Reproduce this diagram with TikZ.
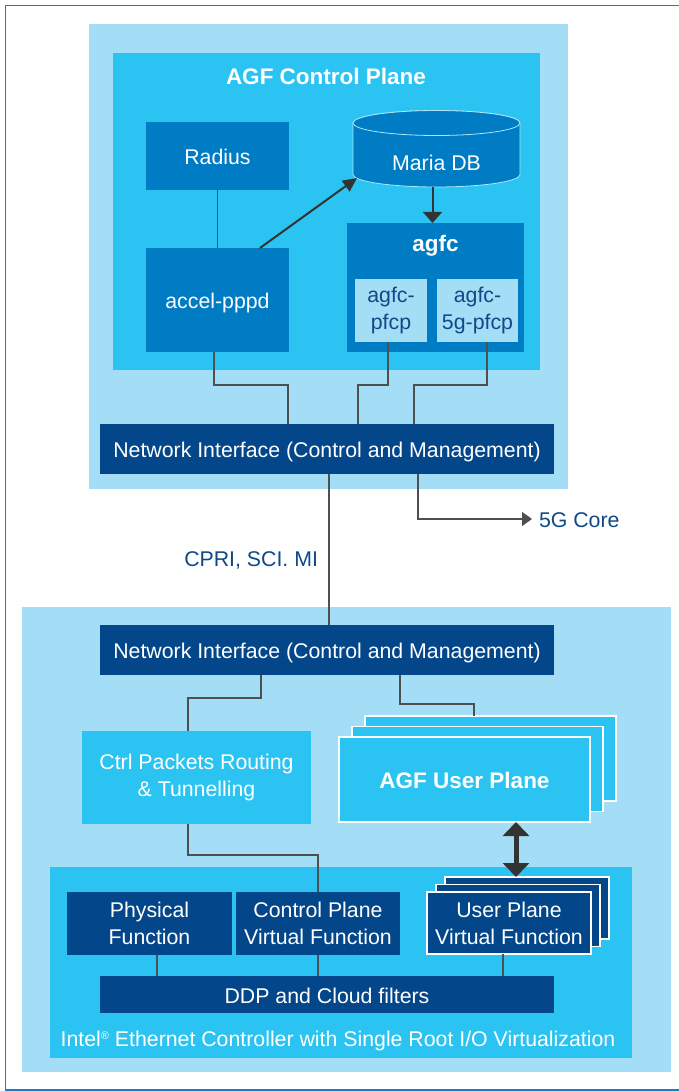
\documentclass[tikz,border=0pt]{standalone}
\usepackage{fontspec}
\setmainfont{Liberation Sans}
\usetikzlibrary{arrows.meta}
\definecolor{lb}{HTML}{A3DDF6}
\definecolor{cy}{HTML}{2BC4F2}
\definecolor{mb}{HTML}{007CC4}
\definecolor{nv}{HTML}{03478A}
\definecolor{tx}{HTML}{0E4A88}
\definecolor{ln}{HTML}{4F4F4F}
\definecolor{ar}{HTML}{333333}
\definecolor{fr}{HTML}{1A7DC6}
\newcommand{\regmark}{\raisebox{7pt}{\fontsize{11}{11}\selectfont ®}}
\begin{document}
\begin{tikzpicture}[x=1pt,y=-1pt,
  every node/.style={inner sep=0pt, outer sep=0pt, font=\fontsize{21.3}{27}\selectfont},
  boldtxt/.style={font=\bfseries\fontsize{22.5}{27}\selectfont},
  sl/.style={text height=17pt, text depth=0pt},
  box/.style={rectangle, fill=#1, text=white, align=center},
  stk/.style={rectangle, fill=#1, draw=white, line width=1.2pt, text=white, align=center},
  conn/.style={draw=ln, line width=1.5pt},
  arr/.style={draw=ar, line width=2pt},
  dbl/.style={draw=ar, line width=5pt, {Triangle[length=14pt,width=26pt]}-{Triangle[length=14pt,width=26pt]}}
]
\useasboundingbox (0,0) rectangle (679,1091);
\fill[white] (0,0) rectangle (679,1091);
\draw[fr, line width=1.4pt] (690,5.5) -- (5.5,5.5) -- (5.5,1090) -- (690,1090);

% ---------- control plane ----------
\node[box=lb, minimum width=479pt, minimum height=465pt] (cpo) at (328.5,256.5) {};
\node[box=cy, minimum width=427pt, minimum height=317pt] (cpi) at (326.5,211.5) {};
\node[boldtxt, sl, text=white] (cptitle) at (326,76) {AGF Control Plane};
\node[box=mb, sl, minimum width=143pt, minimum height=68pt] (radius) at (217.5,156) {Radius};
\node[box=mb, sl, minimum width=143pt, minimum height=104pt] (accel) at (217.5,300) {accel-pppd};

% Maria DB cylinder
\path[fill=mb, draw=white!60!cy, line width=0.8pt] (353,123) -- (353,174.5)
  arc[start angle=180, end angle=360, x radius=83.5pt, y radius=12.5pt] -- (520,123)
  arc[start angle=0, end angle=180, x radius=83.5pt, y radius=12.5pt] -- cycle;
\path[fill=mb, draw=white!60!cy, line width=0.8pt] (436.5,123) ellipse[x radius=83.5pt, y radius=12.5pt];
\node[sl, text=white, minimum width=167pt, minimum height=50pt] (db) at (436.5,162) {Maria DB};
\coordinate (dbin) at (357,178);

\node[box=mb, minimum width=177pt, minimum height=129pt] (agfc) at (435.5,287.5) {};
\node[boldtxt, text=white] (agfcl) at (435.5,246) {agfc};
\node[box=lb, text=tx, minimum width=72pt, minimum height=63pt] (pfcp) at (391,310.5) {agfc-\\pfcp};
\node[box=lb, text=tx, minimum width=81pt, minimum height=63pt] (pfcpg) at (477.5,310.5) {agfc-\\5g-pfcp};

\node[box=nv, sl, minimum width=454pt, minimum height=50pt] (ni1) at (327,449) {Network Interface (Control and Management)};

% connectors control plane
\draw[conn] (radius.south) -- (accel.north);
\draw[arr, -{Triangle[length=14pt,width=13pt]}] ([xshift=42.5pt]accel.north) -- (dbin);
\draw[arr, -{Triangle[length=11pt,width=19pt]}] ([xshift=-4pt]db.south) -- ([xshift=-3pt]agfc.north);
\draw[conn] ([xshift=-3.5pt]accel.south) -- ++(0,33) -| ([xshift=-39pt]ni1.north);
\draw[conn] ([xshift=-3pt]pfcp.south) -- ++(0,43) -| ([xshift=31pt]ni1.north);
\draw[conn] ([xshift=9.5pt]pfcpg.south) -- ++(0,43) -| ([xshift=87pt]ni1.north);

\node[sl, text=tx, anchor=west] (core) at (539,519) {5G Core};
\draw[conn, -{Triangle[length=10pt,width=14pt]}] ([xshift=91pt]ni1.south) |- ([xshift=-7pt]core.west);
\node[sl, text=tx, anchor=east] (cpri) at (318,558) {CPRI, SCI. MI};

% ---------- user side ----------
\node[box=lb, minimum width=649pt, minimum height=465pt] (upo) at (346.5,839.5) {};
\node[box=nv, sl, minimum width=454pt, minimum height=50pt] (ni2) at (327,650) {Network Interface (Control and Management)};
\draw[conn] ([xshift=2pt]ni1.south) -- ([xshift=2pt]ni2.north);

\node[box=cy, minimum width=229pt, minimum height=93pt] (ctrl) at (196.5,777.5) {Ctrl Packets Routing\\\& Tunnelling};
\node[stk=cy, minimum width=251pt, minimum height=85pt] (upb) at (490.5,758.5) {};
\node[stk=cy, minimum width=251pt, minimum height=85pt] (upm) at (477.5,769) {};
\node[stk=cy, boldtxt, sl, minimum width=251pt, minimum height=85pt] (up) at (464.5,779.5) {AGF User Plane};

\node[box=cy, minimum width=582pt, minimum height=191pt] (sriov) at (341,962.5) {};
\node[box=nv, minimum width=165pt, minimum height=63pt] (pf) at (149.5,923.5) {Physical\\Function};
\node[box=nv, minimum width=164pt, minimum height=63pt] (cpvf) at (318,923.5) {Control Plane\\Virtual Function};
\node[stk=nv, minimum width=164pt, minimum height=62pt] (upvfb) at (527,908) {};
\node[stk=nv, minimum width=164pt, minimum height=62pt] (upvfm) at (518,915.5) {};
\node[stk=nv, minimum width=164pt, minimum height=62pt] (upvf) at (509,923) {User Plane\\Virtual Function};
\node[box=nv, sl, minimum width=454pt, minimum height=37pt] (ddp) at (327,994.5) {DDP and Cloud filters};
\node[sl, text=white] (intel) at (338,1038) {Intel\regmark\ Ethernet Controller with Single Root I/O Virtualization};

% connectors user side
\draw[conn] ([xshift=-66pt]ni2.south) -- ++(0,23) -| ([xshift=-8.5pt]ctrl.north);
\draw[conn] ([xshift=73pt]ni2.south) -- ++(0,29) -| ([xshift=-16.5pt]upb.north);
\draw[conn] ([xshift=-8.5pt]ctrl.south) -- ++(0,31) -| (cpvf.north);
\draw[dbl] ([xshift=51.5pt]up.south) -- ([xshift=-11pt]upvfb.north);
\coordinate (pfb) at ([xshift=7.5pt]pf.south);
\coordinate (upvfs) at ([xshift=-6pt]upvf.south);
\draw[conn] (pfb) -- (pfb |- ddp.north);
\draw[conn] (cpvf.south) -- (cpvf.south |- ddp.north);
\draw[conn] (upvfs) -- (upvfs |- ddp.north);
\end{tikzpicture}
\end{document}
